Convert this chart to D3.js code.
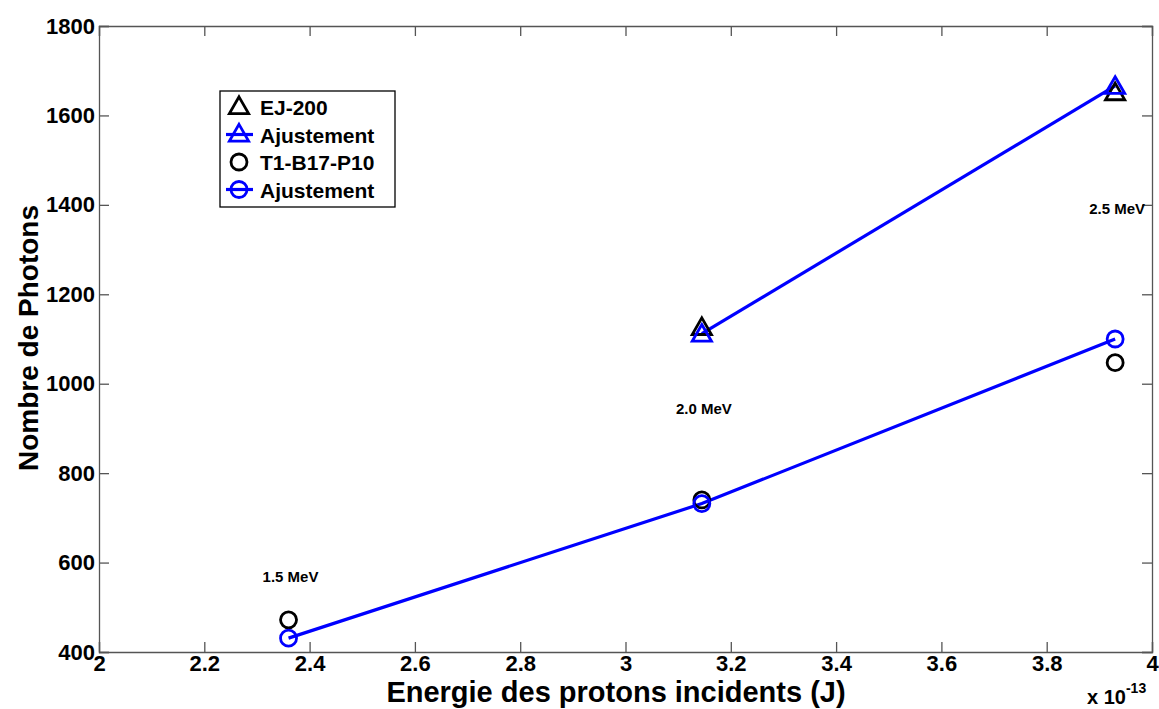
<!DOCTYPE html>
<html>
<head>
<meta charset="utf-8">
<script src="https://cdn.jsdelivr.net/npm/d3@7"></script>
<style>
  body { margin: 0; background: #fff; }
  text { font-family: "Liberation Sans", Arial, sans-serif; font-weight: bold; }
</style>
</head>
<body>
<div id="chart"></div>
<script>
// energies (x 1e-13 J)
const energies = [2.36, 3.145, 3.93];
const energiesEJ = [3.145, 3.93];
const ej200 = [1127, 1652];
const ej200Fit = [1112, 1666];
const t1 = [472, 740, 1047];
const t1Fit = [431, 732, 1100];
const labels = ["1.5 MeV", "2.0 MeV", "2.5 MeV"];
const labelPos = [[2.36, 557], [3.145, 932], [3.93, 1380]];
const xTicks = [2, 2.2, 2.4, 2.6, 2.8, 3, 3.2, 3.4, 3.6, 3.8, 4];
const yTicks = [400, 600, 800, 1000, 1200, 1400, 1600, 1800];

const W = 1159, H = 709;
const margin = {top: 26, right: 7, bottom: 57, left: 99};
const width = W - margin.left - margin.right;
const height = H - margin.top - margin.bottom;

const svg = d3.select("#chart").append("svg")
    .attr("width", W).attr("height", H);
const g = svg.append("g")
    .attr("transform", `translate(${margin.left},${margin.top})`);

const x = d3.scaleLinear().domain([2, 4]).range([0, width]);
const y = d3.scaleLinear().domain([400, 1800]).range([height, 0]);

// axes, ticks inside on all four sides (matlab style)
const axisColor = "#555";
const fmt = d => String(d);
g.append("g").attr("transform", `translate(0,${height})`)
    .call(d3.axisBottom(x).tickValues(xTicks).tickSize(-10).tickPadding(2).tickFormat(fmt))
    .call(a => a.selectAll("text").attr("font-size", 22).attr("fill", "#000").attr("dy", "0.75em"));
g.append("g")
    .call(d3.axisLeft(y).tickValues(yTicks).tickSize(-10).tickPadding(4).tickFormat(fmt))
    .call(a => a.selectAll("text").attr("font-size", 22).attr("fill", "#000"));
g.append("g")
    .call(d3.axisTop(x).tickValues(xTicks).tickSize(-10).tickFormat(""));
g.append("g").attr("transform", `translate(${width},0)`)
    .call(d3.axisRight(y).tickValues(yTicks).tickSize(-10).tickFormat(""));
g.selectAll(".domain, .tick line").attr("stroke", axisColor).attr("stroke-width", 1.3);

// axis titles
svg.append("text")
    .attr("x", 616).attr("y", 702)
    .attr("text-anchor", "middle").attr("font-size", 29)
    .text("Energie des protons incidents (J)");
svg.append("text")
    .attr("transform", `translate(38,338) rotate(-90)`)
    .attr("text-anchor", "middle").attr("font-size", 28)
    .text("Nombre de Photons");
const exp = svg.append("text").attr("x", 1087).attr("y", 704).attr("font-size", 20);
exp.append("tspan").text("x 10");
exp.append("tspan").attr("dy", -11).attr("font-size", 14).text("-13");

const blue = "#0000ff";
const line = d3.line().x(d => x(d[0])).y(d => y(d[1]));
const tri = d3.symbol().type(d3.symbolTriangle).size(160);

// fit lines
g.append("path").datum(d3.zip(energiesEJ, ej200Fit))
    .attr("d", line).attr("fill", "none").attr("stroke", blue).attr("stroke-width", 3.2);
g.append("path").datum(d3.zip(energies, t1Fit))
    .attr("d", line).attr("fill", "none").attr("stroke", blue).attr("stroke-width", 3.2);

// markers
g.selectAll(".ej").data(d3.zip(energiesEJ, ej200)).enter().append("path")
    .attr("d", tri).attr("transform", d => `translate(${x(d[0])},${y(d[1]) + 2})`)
    .attr("fill", "none").attr("stroke", "#000").attr("stroke-width", 2.8);
g.selectAll(".ejfit").data(d3.zip(energiesEJ, ej200Fit)).enter().append("path")
    .attr("d", tri).attr("transform", d => `translate(${x(d[0])},${y(d[1]) + 2})`)
    .attr("fill", "none").attr("stroke", blue).attr("stroke-width", 2.8);
g.selectAll(".t1").data(d3.zip(energies, t1)).enter().append("circle")
    .attr("cx", d => x(d[0])).attr("cy", d => y(d[1])).attr("r", 8)
    .attr("fill", "none").attr("stroke", "#000").attr("stroke-width", 2.8);
g.selectAll(".t1fit").data(d3.zip(energies, t1Fit)).enter().append("circle")
    .attr("cx", d => x(d[0])).attr("cy", d => y(d[1])).attr("r", 8)
    .attr("fill", "none").attr("stroke", blue).attr("stroke-width", 2.8);

// energy labels
g.selectAll(".lbl").data(labels).enter().append("text")
    .attr("x", (d, i) => x(labelPos[i][0]) + 2)
    .attr("y", (d, i) => y(labelPos[i][1]))
    .attr("text-anchor", "middle").attr("font-size", 15)
    .text(d => d);

// legend
const legItems = [
    {name: "EJ-200", color: "#000", shape: "tri", line: false},
    {name: "Ajustement", color: blue, shape: "tri", line: true},
    {name: "T1-B17-P10", color: "#000", shape: "circ", line: false},
    {name: "Ajustement", color: blue, shape: "circ", line: true}
];
const leg = svg.append("g").attr("transform", "translate(220,91)");
leg.append("rect").attr("width", 175).attr("height", 116)
    .attr("fill", "#fff").attr("stroke", "#000").attr("stroke-width", 1.3);
legItems.forEach((d, i) => {
    const yy = 16 + i * 27.5;
    const row = leg.append("g").attr("transform", `translate(0,${yy})`);
    if (d.line) row.append("line").attr("x1", 6).attr("x2", 33)
        .attr("stroke", d.color).attr("stroke-width", 3.2);
    if (d.shape === "tri") row.append("path").attr("d", tri)
        .attr("transform", "translate(19,1)")
        .attr("fill", "none").attr("stroke", d.color).attr("stroke-width", 2.8);
    else row.append("circle").attr("cx", 19).attr("r", 8)
        .attr("fill", "none").attr("stroke", d.color).attr("stroke-width", 2.8);
    row.append("text").attr("x", 40).attr("y", 8).attr("font-size", 21).text(d.name);
});
</script>
</body>
</html>
